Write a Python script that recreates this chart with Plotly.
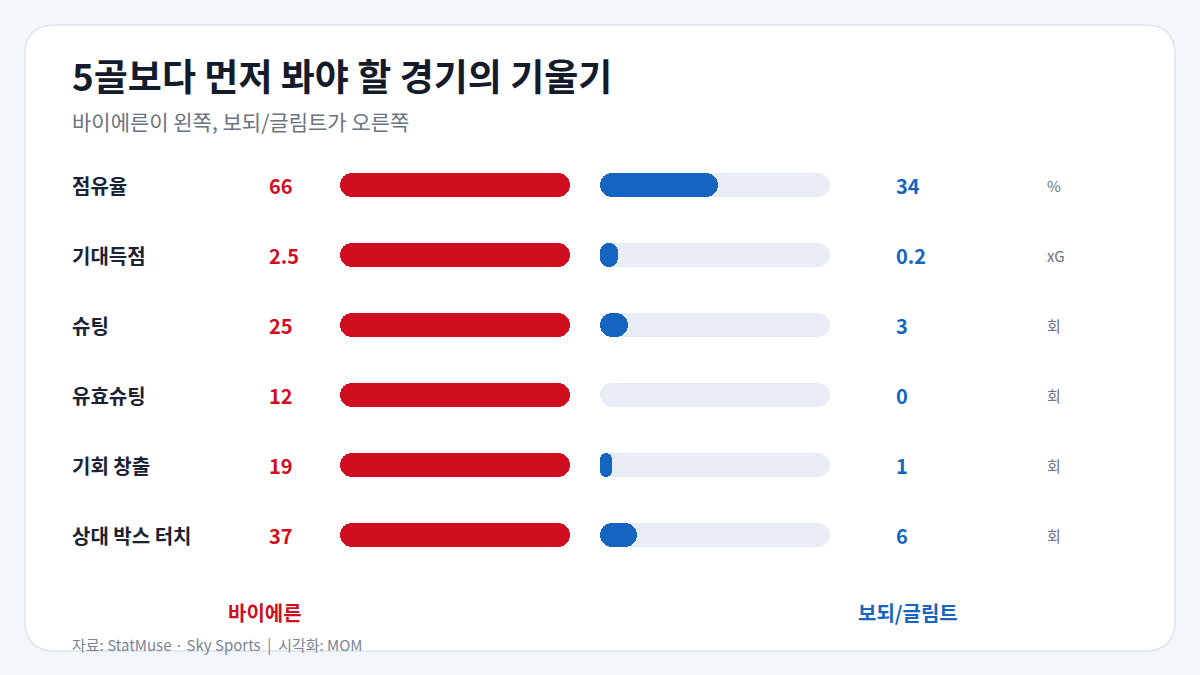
import plotly.graph_objects as go

# data
categories = ["점유율", "기대득점", "슈팅", "유효슈팅", "기회 창출", "상대 박스 터치"]
bayern = [66, 2.5, 25, 12, 19, 37]
bodo = [34, 0.2, 3, 0, 1, 6]
bayern_labels = ["66", "2.5", "25", "12", "19", "37"]
bodo_labels = ["34", "0.2", "3", "0", "1", "6"]
units = ["%", "xG", "회", "회", "회", "회"]

RED = "#d10e1f"
BLUE = "#1565c0"
TRACK = "#e8edf5"
FONT = "Noto Sans CJK KR"
W, H = 1200, 675

# share of the larger value in each row
left_share = [a / max(a, b) if max(a, b) else 0 for a, b in zip(bayern, bodo)]
right_share = [b / max(a, b) if max(a, b) else 0 for a, b in zip(bayern, bodo)]
ones = [1] * len(categories)
zeros = [0] * len(categories)

bar_w = 24 / 70


def pill(fig, vals, color, xaxis):
    # explicit base -> floating bar, rounded at both ends
    fig.add_trace(go.Bar(x=vals, base=zeros, y=categories, orientation="h", width=bar_w,
                         marker=dict(color=color, cornerradius=12, line=dict(width=0)),
                         xaxis=xaxis, yaxis="y", hoverinfo="skip", showlegend=False))


fig = go.Figure()
pill(fig, ones, TRACK, "x")
pill(fig, left_share, RED, "x")
pill(fig, ones, TRACK, "x2")
pill(fig, right_share, BLUE, "x2")

ann = []
for cat, lv, rv, u in zip(categories, bayern_labels, bodo_labels, units):
    ann.append(dict(x=70 / W, y=cat, xref="paper", yref="y", text=cat, showarrow=False,
                    xanchor="left", font=dict(size=20, color="#1a2233", family=FONT, weight="bold")))
    ann.append(dict(x=267 / W, y=cat, xref="paper", yref="y", text=lv, showarrow=False,
                    xanchor="left", font=dict(size=20, color=RED, family=FONT, weight="bold")))
    ann.append(dict(x=894 / W, y=cat, xref="paper", yref="y", text=rv, showarrow=False,
                    xanchor="left", font=dict(size=20, color=BLUE, family=FONT, weight="bold")))
    ann.append(dict(x=1045 / W, y=cat, xref="paper", yref="y", text=u, showarrow=False,
                    xanchor="left", font=dict(size=15, color="#6b7280", family=FONT)))

ann += [
    dict(x=70 / W, y=1 - 75 / H, xref="paper", yref="paper", text="5골보다 먼저 봐야 할 경기의 기울기",
         showarrow=False, xanchor="left", yanchor="middle",
         font=dict(size=37, color="#141c2b", family=FONT, weight="bold")),
    dict(x=70 / W, y=1 - 121 / H, xref="paper", yref="paper", text="바이에른이 왼쪽, 보되/글림트가 오른쪽",
         showarrow=False, xanchor="left", yanchor="middle",
         font=dict(size=21, color="#6b7280", family=FONT)),
    dict(x=265 / W, y=1 - 612 / H, xref="paper", yref="paper", text="바이에른",
         showarrow=False, xanchor="center", yanchor="middle",
         font=dict(size=20, color=RED, family=FONT, weight="bold")),
    dict(x=908 / W, y=1 - 612 / H, xref="paper", yref="paper", text="보되/글림트",
         showarrow=False, xanchor="center", yanchor="middle",
         font=dict(size=20, color=BLUE, family=FONT, weight="bold")),
    dict(x=70 / W, y=1 - 644 / H, xref="paper", yref="paper",
         text="자료: StatMuse · Sky Sports \u00a0|\u00a0 시각화: MOM",
         showarrow=False, xanchor="left", yanchor="middle",
         font=dict(size=15, color="#7b8494", family=FONT)),
]

# card with rounded corners, drawn in paper coords
x0, x1, y0, y1, r = 25, 1175, 25, 651, 30


def px(v):
    return v / W


def py(v):
    return 1 - v / H


card = (f"M {px(x0 + r)},{py(y0)} L {px(x1 - r)},{py(y0)} Q {px(x1)},{py(y0)} {px(x1)},{py(y0 + r)} "
        f"L {px(x1)},{py(y1 - r)} Q {px(x1)},{py(y1)} {px(x1 - r)},{py(y1)} "
        f"L {px(x0 + r)},{py(y1)} Q {px(x0)},{py(y1)} {px(x0)},{py(y1 - r)} "
        f"L {px(x0)},{py(y0 + r)} Q {px(x0)},{py(y0)} {px(x0 + r)},{py(y0)} Z")

fig.update_layout(
    width=W, height=H,
    margin=dict(l=0, r=0, t=0, b=0),
    paper_bgcolor="#f3f6fa",
    plot_bgcolor="rgba(0,0,0,0)",
    barmode="overlay",
    bargap=0,
    font=dict(family=FONT),
    shapes=[dict(type="path", path=card, xref="paper", yref="paper", layer="below",
                 fillcolor="white", line=dict(color="#dbe4ee", width=1.5))],
    annotations=ann,
    xaxis=dict(domain=[340 / W, 570 / W], range=[1, 0], visible=False, fixedrange=True),
    xaxis2=dict(domain=[600 / W, 830 / W], range=[0, 1], visible=False, fixedrange=True),
    yaxis=dict(domain=[1 - 570 / H, 1 - 150 / H], autorange="reversed", visible=False,
               categoryorder="array", categoryarray=categories, fixedrange=True),
)

fig.write_html("out.html", config={"displayModeBar": False},
               post_script="document.body.style.margin='0';document.body.style.overflow='hidden';")
